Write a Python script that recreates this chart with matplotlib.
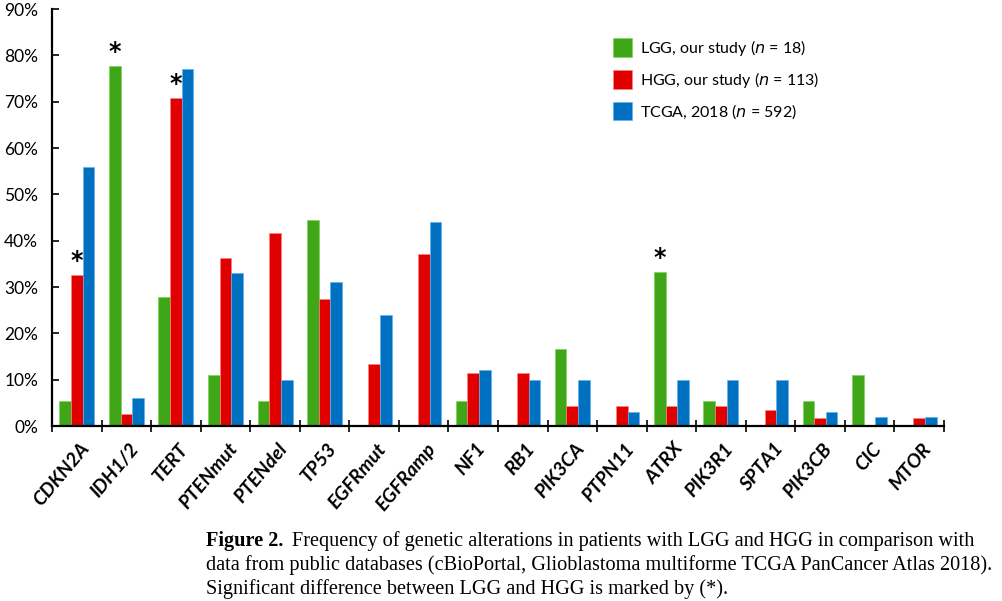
import matplotlib.pyplot as plt
import numpy as np

genes = ['CDKN2A', 'IDH1/2', 'TERT', 'PTENmut', 'PTENdel', 'TP53', 'EGFRmut',
         'EGFRamp', 'NF1', 'RB1', 'PIK3CA', 'PTPN11', 'ATRX', 'PIK3R1',
         'SPTA1', 'PIK3CB', 'CIC', 'MTOR']
lgg = [5.5, 77.8, 27.8, 11.1, 5.5, 44.4, 0, 0, 5.5, 0, 16.7, 0, 33.3, 5.5, 0, 5.5, 11.1, 0]
hgg = [32.7, 2.7, 70.8, 36.3, 41.6, 27.4, 13.3, 37.2, 11.5, 11.5, 4.4, 4.4, 4.4, 4.4, 3.5, 1.8, 0, 1.8]
tcga = [56, 6, 77, 33, 10, 31, 24, 44, 12, 10, 10, 3, 10, 10, 10, 3, 2, 2]
# (gene index, series) marked as significant
stars = [(0, 'hgg'), (1, 'lgg'), (2, 'hgg'), (12, 'lgg')]

green = '#3fa617'
red = '#e00000'
blue = '#0070c0'

plt.rcParams['font.family'] = ['Lato', 'DejaVu Sans']

fig = plt.figure(figsize=(10.02, 6.01), dpi=100)
ax = fig.add_axes([0.052, 0.291, 0.89, 0.694])

x = np.arange(len(genes))
w = 0.235
offs = {'lgg': -w, 'hgg': 0, 'tcga': w}
ax.bar(x - w, lgg, w, color=green, edgecolor='#7fd05a', linewidth=0.5,
       label='LGG, our study ($n$ = 18)')
ax.bar(x, hgg, w, color=red, edgecolor='#ff8080', linewidth=0.5,
       label='HGG, our study ($n$ = 113)')
ax.bar(x + w, tcga, w, color=blue, edgecolor='#60b0f0', linewidth=0.5,
       label='TCGA, 2018 ($n$ = 592)')

vals = {'lgg': lgg, 'hgg': hgg}
for i, s in stars:
    ax.text(x[i] + offs[s], vals[s][i] + 0.4, '*', ha='center', va='bottom',
            fontsize=17, fontweight='bold', family='DejaVu Sans')

ax.set_xlim(-0.5, len(genes) - 0.5)
ax.set_ylim(0, 90)
ax.set_yticks(np.arange(0, 91, 10))
ax.set_yticklabels([f'{v}%' for v in range(0, 91, 10)], fontsize=12.5)
ax.tick_params(axis='y', direction='in', length=5, width=1.2, pad=10)

ax.set_xticks(np.arange(-0.5, len(genes), 1))
ax.set_xticklabels([])
ax.tick_params(axis='x', direction='inout', length=9, width=1.2)
for i, g in enumerate(genes):
    ax.text(x[i] + 0.05, -3.0, g, rotation=50, ha='right', va='top',
            rotation_mode='anchor', fontsize=14, fontweight='bold',
            fontstyle='italic')

for s in ['top', 'right']:
    ax.spines[s].set_visible(False)
for s in ['left', 'bottom']:
    ax.spines[s].set_linewidth(1.6)

ax.legend(loc='upper left', bbox_to_anchor=(0.613, 0.965), frameon=False,
          fontsize=11.5, handlelength=1.2, handleheight=1.4, labelspacing=0.75,
          handletextpad=0.5)

serif = 'Liberation Serif'
cap_fs = 14.6
fig.text(0.206, 0.116, 'Figure 2.', fontsize=cap_fs, family=serif,
         fontweight='bold', va='top')
fig.text(0.291, 0.116,
         'Frequency of genetic alterations in patients with LGG and HGG in comparison with',
         fontsize=cap_fs, family=serif, va='top')
fig.text(0.206, 0.076,
         'data from public databases (cBioPortal, Glioblastoma multiforme TCGA PanCancer Atlas 2018).',
         fontsize=cap_fs, family=serif, va='top')
fig.text(0.206, 0.036,
         'Significant difference between LGG and HGG is marked by (*).',
         fontsize=cap_fs, family=serif, va='top')

fig.savefig('out.png', dpi=100)
